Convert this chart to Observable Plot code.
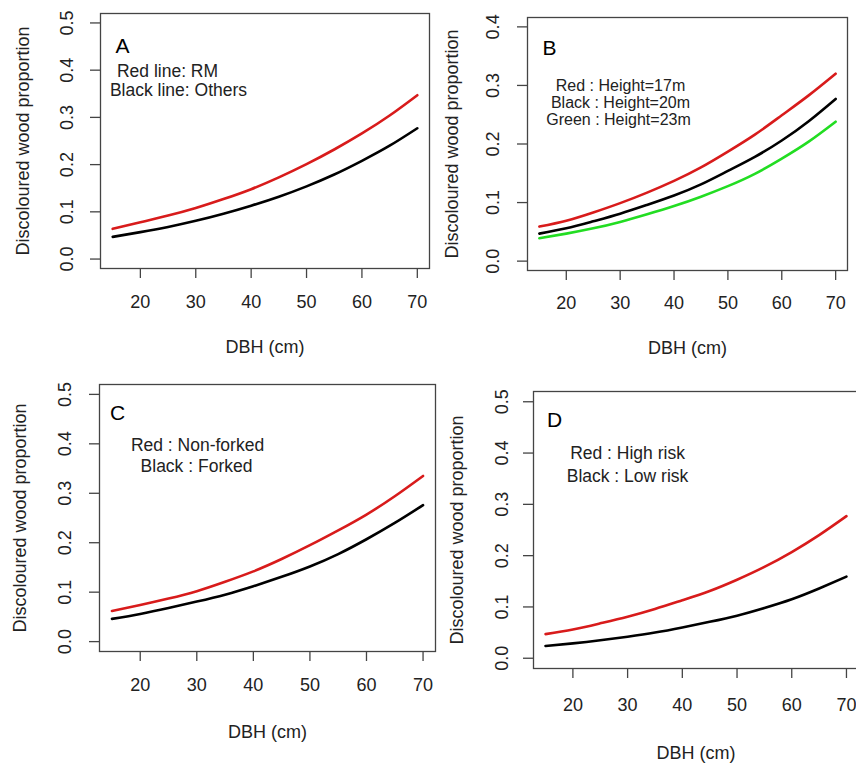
<!DOCTYPE html>
<html>
<head>
<meta charset="utf-8">
<script src="https://cdn.jsdelivr.net/npm/d3@7"></script>
<script src="https://cdn.jsdelivr.net/npm/@observablehq/plot@0.6"></script>
<style>
  html, body { margin: 0; padding: 0; background: white; }
  #wrap { position: relative; width: 856px; height: 765px; overflow: hidden; background: white; }
</style>
</head>
<body>
<div id="wrap"></div>
<script>
// ---- data ----
const dbh = [15, 20, 25, 30, 35, 40, 45, 50, 55, 60, 65, 70];

// Panel A
const aRM     = [0.064, 0.078, 0.092, 0.108, 0.127, 0.148, 0.173, 0.201, 0.232, 0.266, 0.304, 0.347];
const aOthers = [0.047, 0.057, 0.068, 0.081, 0.096, 0.113, 0.132, 0.154, 0.179, 0.208, 0.240, 0.277];

// Panel B
const bH17 = [0.059, 0.069, 0.083, 0.099, 0.117, 0.137, 0.160, 0.187, 0.216, 0.249, 0.283, 0.320];
const bH20 = [0.047, 0.056, 0.068, 0.081, 0.096, 0.112, 0.131, 0.154, 0.178, 0.206, 0.239, 0.277];
const bH23 = [0.039, 0.047, 0.056, 0.067, 0.080, 0.094, 0.110, 0.128, 0.149, 0.175, 0.204, 0.238];

// Panel C
const cNonForked = [0.062, 0.074, 0.087, 0.102, 0.121, 0.142, 0.167, 0.195, 0.225, 0.257, 0.294, 0.335];
const cForked    = [0.046, 0.056, 0.068, 0.081, 0.095, 0.112, 0.131, 0.152, 0.177, 0.207, 0.240, 0.276];

// Panel D
const dHigh = [0.047, 0.056, 0.068, 0.081, 0.096, 0.113, 0.131, 0.153, 0.178, 0.207, 0.240, 0.277];
const dLow  = [0.024, 0.029, 0.035, 0.042, 0.050, 0.060, 0.071, 0.083, 0.098, 0.115, 0.136, 0.159];

const xTicks = [20, 30, 40, 50, 60, 70];
const yTicks5 = [0, 0.1, 0.2, 0.3, 0.4, 0.5];
const yTicks4 = [0, 0.1, 0.2, 0.3, 0.4];
const xLabel = "DBH (cm)";
const yLabel = "Discoloured wood proportion";

const RED = "#d81b1b", BLACK = "#000000", GREEN = "#22dd22";
const FONT = "Arial, 'Liberation Sans', sans-serif";
const TXT = "#222";

function series(vals) { return dbh.map((x, i) => ({x, y: vals[i]})); }

function panel(cfg) {
  const marks = [
    Plot.frame({stroke: "#444", strokeWidth: 1.3}),
    Plot.axisX({ticks: xTicks, tickSize: 10, tickPadding: cfg.xTickPad, tickFormat: d => String(d),
      fontSize: 18, fill: TXT, stroke: "#444", strokeWidth: 1.3, label: null}),
    Plot.axisY({ticks: cfg.yTicks, tickSize: 10, tickFormat: () => "", stroke: "#444", strokeWidth: 1.3, label: null}),
    Plot.text(cfg.yTicks, {y: d => d, text: d => d3.format(".1f")(d), frameAnchor: "left",
      dx: cfg.yTickDx, rotate: -90, textAnchor: "middle", lineAnchor: "middle", fontSize: 18, fill: TXT}),
    Plot.text([xLabel], {frameAnchor: "bottom", dy: cfg.xLabDy, fontSize: 18, fill: TXT,
      textAnchor: "middle", lineAnchor: "middle"}),
    Plot.text([yLabel], {frameAnchor: "left", dx: cfg.yLabDx, rotate: -90, fontSize: 18, fill: TXT,
      textAnchor: "middle", lineAnchor: "middle"}),
    ...cfg.lines.map(l => Plot.line(series(l.values), {x: "x", y: "y", stroke: l.color, strokeWidth: 2.6, curve: "natural"})),
    Plot.text([cfg.letter], {frameAnchor: "top-left", dx: cfg.letterPos[0], dy: cfg.letterPos[1],
      fontSize: 21, fill: "#000", textAnchor: "middle", lineAnchor: "middle"}),
    ...cfg.notes.map(n => Plot.text([n.text], {frameAnchor: "top-left", dx: n.pos[0], dy: n.pos[1],
      fontSize: cfg.noteSize, fill: TXT, textAnchor: "middle", lineAnchor: "middle"}))
  ];
  const p = Plot.plot({
    width: cfg.width, height: cfg.height,
    marginLeft: cfg.m[0], marginRight: cfg.m[1], marginTop: cfg.m[2], marginBottom: cfg.m[3],
    x: {domain: [12.8, 72.2], axis: null},
    y: {domain: cfg.yDomain, axis: null},
    style: {fontFamily: FONT, background: "transparent", overflow: "visible"},
    marks
  });
  p.style.left = cfg.left + "px";
  p.style.top = cfg.top + "px";
  p.style.position = "absolute";
  p.style.maxWidth = "none";
  document.getElementById("wrap").appendChild(p);
}

// Panel A: frame 100..429 x 13..268
panel({
  left: 0, top: 0, width: 430, height: 370, m: [100, 1, 13, 102],
  yDomain: [-0.02, 0.52], yTicks: yTicks5,
  xTickPad: 17, yTickDx: -33, xLabDy: 79, yLabDx: -77, noteSize: 17.5,
  lines: [{values: aRM, color: RED}, {values: aOthers, color: BLACK}],
  letter: "A", letterPos: [22, 33],
  notes: [{text: "Red line: RM", pos: [67, 58]}, {text: "Black line: Others", pos: [78, 77]}]
});

// Panel B: frame 527..847 x 17..270
panel({
  left: 430, top: 0, width: 426, height: 370, m: [97, 9, 17, 100],
  yDomain: [-0.016, 0.416], yTicks: yTicks4,
  xTickPad: 16, yTickDx: -34, xLabDy: 78, yLabDx: -75, noteSize: 16,
  lines: [{values: bH17, color: RED}, {values: bH20, color: BLACK}, {values: bH23, color: GREEN}],
  letter: "B", letterPos: [22, 31],
  notes: [{text: "Red : Height=17m", pos: [93, 68]}, {text: "Black : Height=20m", pos: [93, 85]},
          {text: "Green : Height=23m", pos: [91, 102]}]
});

// Panel C: frame 99..435 x 384..651
panel({
  left: 0, top: 370, width: 436, height: 395, m: [99, 1, 14, 114],
  yDomain: [-0.02, 0.52], yTicks: yTicks5,
  xTickPad: 17, yTickDx: -34, xLabDy: 81, yLabDx: -79, noteSize: 17.5,
  lines: [{values: cNonForked, color: RED}, {values: cForked, color: BLACK}],
  letter: "C", letterPos: [18, 29],
  notes: [{text: "Red : Non-forked", pos: [98, 61]}, {text: "Black : Forked", pos: [97, 82]}]
});

// Panel D: frame 533..858 x 391..668
panel({
  left: 436, top: 370, width: 424, height: 395, m: [97, 2, 21, 97],
  yDomain: [-0.02, 0.52], yTicks: yTicks5,
  xTickPad: 20, yTickDx: -31, xLabDy: 85, yLabDx: -76, noteSize: 17.5,
  lines: [{values: dHigh, color: RED}, {values: dLow, color: BLACK}],
  letter: "D", letterPos: [21, 29],
  notes: [{text: "Red : High risk", pos: [94, 62]}, {text: "Black : Low risk", pos: [94, 85]}]
});
</script>
</body>
</html>
